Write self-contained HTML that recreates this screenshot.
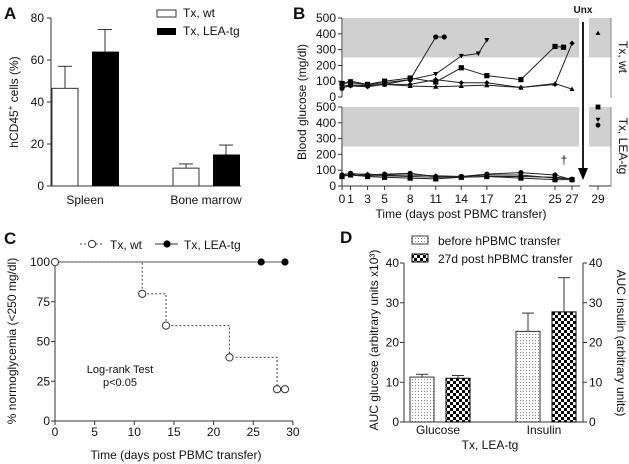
<!DOCTYPE html>
<html><head><meta charset="utf-8"><style>
body{margin:0;background:#fff}
svg{display:block;font-family:"Liberation Sans",sans-serif}
</style></head><body>
<svg id="s" width="629" height="464" viewBox="0 0 629 464">
<defs>
<pattern id="dots" width="3" height="3" patternUnits="userSpaceOnUse"><rect width="3" height="3" fill="#fff"/><rect x="1" y="1" width="1" height="1" fill="#888"/></pattern>
<pattern id="check" width="6" height="6" patternUnits="userSpaceOnUse"><rect width="6" height="6" fill="#fff"/><rect width="3" height="3" fill="#000"/><rect x="3" y="3" width="3" height="3" fill="#000"/></pattern>
</defs>
<g id="A"></g>
<g id="B"></g>
<g id="C"></g>
<g id="D"></g>
</svg>
<script>
// Panel A data
const aCats=["Spleen","Bone marrow"];
const aWt=[46.5,8.5], aWtErr=[10.5,2];
const aLea=[64,15], aLeaErr=[10.5,4.5];
const aTicks=[0,20,40,60,80];
// Panel B data
const bTicks=[0,1,3,5,8,11,14,17,21,25,27];
const bYTicks=[0,100,200,300,400,500];
const wtDays=[[0,1,3,5,8,11,12],[0,1,3,5,8,11,14,16,17],[0,1,3,5,8,11,14,17,21,25,26],[0,1,3,5,8,11,14,17,21,25,27],[0,1,3,5,8,11,14,17,21,25,27]];
const wtVals=[[55,75,70,80,110,380,380],[85,100,80,90,110,145,260,275,360],[85,90,80,100,120,95,185,135,110,320,315],[60,70,65,80,80,110,90,90,60,80,340],[70,75,75,80,70,65,70,75,60,85,50]];
const wtMarks=["circle","tridown","square","diamond","triangle"];
const leaDays=[[0,1,3,5,8,11,14,17,21,25,27],[0,1,3,5,8,11,14,17,21,25,27],[0,1,3,5,8,11,14,17,21,25,27],[0,1,3,5,8,11,14,17,21,25,27]];
const leaVals=[[70,80,70,75,80,60,60,75,85,70,40],[60,70,60,55,50,45,55,60,50,40,40],[75,75,75,70,70,65,60,70,70,50,45],[65,70,65,65,60,55,55,60,60,55,45]];
const leaMarks=["circle","square","triangle","diamond"];
const day29Wt=[405], day29WtMarks=["triangle"];
const day29Lea=[500,420,385], day29LeaMarks=["square","tridown","circle"];
// Panel C data
const cWtX=[0,11,14,22,28,29], cWtY=[100,80,60,40,20,20];
const cLeaX=[26,29], cLeaY=[100,100];
const cXTicks=[0,5,10,15,20,25,30], cYTicks=[0,25,50,75,100];
// Panel D data
const dCats=["Glucose","Insulin"];
const dBefore=[11.3,22.8], dBeforeErr=[0.7,4.6];
const dPost=[11,27.7], dPostErr=[0.7,8.6];
const dTicks=[0,10,20,30,40];

const NS="http://www.w3.org/2000/svg";
function mk(parent,tag,attrs,txt){const e=document.createElementNS(NS,tag);for(const k in attrs)e.setAttribute(k,attrs[k]);if(txt!==undefined)e.textContent=txt;parent.appendChild(e);return e;}
function line(p,x1,y1,x2,y2,st,w,dash){return mk(p,'line',{x1,y1,x2,y2,stroke:st||'#333','stroke-width':w||1,'stroke-dasharray':dash||'none'});}
function text(p,x,y,t,sz,anchor,extra){const e=mk(p,'text',Object.assign({x,y,'font-size':sz||12,'text-anchor':anchor||'middle',fill:'#111'},extra||{}),t);return e;}
function marker(p,type,x,y,r){r=r||3;let e;
 if(type=='circle')e=mk(p,'circle',{cx:x,cy:y,r:r,fill:'#000'});
 else if(type=='square')e=mk(p,'rect',{x:x-r,y:y-r,width:2*r,height:2*r,fill:'#000'});
 else if(type=='triangle')e=mk(p,'polygon',{points:`${x},${y-r} ${x-r},${y+r*0.8} ${x+r},${y+r*0.8}`,fill:'#000'});
 else if(type=='tridown')e=mk(p,'polygon',{points:`${x},${y+r} ${x-r},${y-r*0.8} ${x+r},${y-r*0.8}`,fill:'#000'});
 else e=mk(p,'polygon',{points:`${x},${y-r} ${x+r},${y} ${x},${y+r} ${x-r},${y}`,fill:'#000'});
 return e;}

// ---------- Panel A ----------
(function(){const g=document.getElementById('A');
 const y=v=>186-v*2.1;
 text(g,4,19,'A',17,'start',{'font-weight':'bold'});
 line(g,51,18,51,186);line(g,51,186,241,186);
 aTicks.forEach(t=>{line(g,47,y(t),51,y(t));const l=text(g,44,y(t)+4,t,12,'end');
  
  });
 const gx=[52,173];
 aCats.forEach((c,i)=>{
  const bx=gx[i];
  const b1=mk(g,'rect',{x:bx,y:y(aWt[i]),width:26,height:aWt[i]*2.1,fill:'#fff',stroke:'#333'});
  
  
  line(g,bx+13,y(aWt[i]),bx+13,y(aWt[i]+aWtErr[i]));line(g,bx+6,y(aWt[i]+aWtErr[i]),bx+20,y(aWt[i]+aWtErr[i]));
  const b2=mk(g,'rect',{x:bx+40,y:y(aLea[i]),width:27,height:aLea[i]*2.1,fill:'#000'});
  
  
  line(g,bx+53,y(aLea[i]),bx+53,y(aLea[i]+aLeaErr[i]));line(g,bx+46,y(aLea[i]+aLeaErr[i]),bx+60,y(aLea[i]+aLeaErr[i]));
  const l=text(g,bx+33,204,c,12);
  
  
 });
 const yt=text(g,0,0,'',12,'middle',{transform:'translate(18,102) rotate(-90)'});
 yt.innerHTML='hCD45<tspan dy="-5" font-size="8">+</tspan><tspan dy="5"> cells (%)</tspan>';
 
 
 const lg=mk(g,'g',{});
 mk(lg,'rect',{x:157,y:10,width:19,height:7,fill:'#fff',stroke:'#333'});text(lg,183,17,'Tx, wt',12,'start');
 mk(lg,'rect',{x:157,y:28,width:19,height:7,fill:'#000'});text(lg,183,35,'Tx, LEA-tg',12,'start');
})();

// ---------- Panel B ----------
(function(){const g=document.getElementById('B');
 const x=d=>342+d*8.52;
 const yT=v=>97-v*0.158, yB=v=>186-v*0.158;
 text(g,293,19,'B',17,'start',{'font-weight':'bold'});
 mk(g,'rect',{x:343,y:yT(500),width:236,height:250*0.158,fill:'#d0d0d0'});
 mk(g,'rect',{x:343,y:yB(500),width:236,height:250*0.158,fill:'#d0d0d0'});
 mk(g,'rect',{x:589,y:yT(500),width:22,height:250*0.158,fill:'#d0d0d0'});
 mk(g,'rect',{x:589,y:yB(500),width:22,height:250*0.158,fill:'#d0d0d0'});
 line(g,342,18,342,97);line(g,342,107,342,186);line(g,342,186,580,186);line(g,589,186,611,186);
 line(g,611,18,611,98,'#888');line(g,611,107,611,186,'#888');
 bYTicks.forEach(t=>{[yT,yB].forEach(f=>{line(g,338,f(t),342,f(t));text(g,336,f(t)+4,t,12,'end');});});
 bTicks.forEach(t=>{line(g,x(t),186,x(t),190);const l=text(g,x(t),203,t,12);
  
  });
 line(g,598,186,598,190);text(g,598,203,'29',12);
 const xt=text(g,461,218,'Time (days post PBMC transfer)',12);
 
 
 const yt=text(g,0,0,'Blood glucose (mg/dl)',12,'middle',{transform:'translate(306,102) rotate(-90)'});
 
 
 function series(days,vals,marks,f,nm){days.forEach((ds,i)=>{
  const pts=ds.map((d,j)=>x(d)+','+f(vals[i][j])).join(' ');
  const pl=mk(g,'polyline',{points:pts,fill:'none',stroke:'#222','stroke-width':1});
  
  
  ds.forEach((d,j)=>marker(g,marks[i],x(d),f(vals[i][j]),2.6));});}
 series(wtDays,wtVals,wtMarks,yT,'wt');
 series(leaDays,leaVals,leaMarks,yB,'lea');
 day29Wt.forEach((v,i)=>marker(g,day29WtMarks[i],598,yT(v),2.4));
 day29Lea.forEach((v,i)=>marker(g,day29LeaMarks[i],598,yB(v),2.4));
 line(g,583,22,583,170,'#222',2);
 mk(g,'polygon',{points:'578,168 588,168 583,180',fill:'#000'});
 text(g,583,13,'Unx',10,'middle',{'font-weight':'bold'});
 text(g,564,164,'†',12);
 text(g,0,0,'Tx, wt',12,'middle',{transform:'translate(619,57) rotate(90)'});
 text(g,0,0,'Tx, LEA-tg',12,'middle',{transform:'translate(619,146) rotate(90)'});
})();

// ---------- Panel C ----------
(function(){const g=document.getElementById('C');
 const x=d=>55+d*7.93, y=v=>421-v*1.59;
 text(g,4,244,'C',17,'start',{'font-weight':'bold'});
 line(g,55,262,55,421);line(g,55,421,293,421);
 cXTicks.forEach(t=>{line(g,x(t),421,x(t),425);text(g,x(t),436,t,12);});
 cYTicks.forEach(t=>{line(g,51,y(t),55,y(t));text(g,50,y(t)+4,t,12,'end');});
 text(g,176,459,'Time (days post PBMC transfer)',12);
 text(g,0,0,'% normoglycemia (<250 mg/dl)',12,'middle',{transform:'translate(16,341) rotate(-90)'});
 line(g,x(0),y(100),x(29),y(100),'#555',1);
 let d=`M${x(cWtX[0])},${y(cWtY[0])}`;
 for(let i=1;i<cWtX.length;i++){d+=` H${x(cWtX[i])} V${y(cWtY[i])}`;}
 const st=mk(g,'path',{d,fill:'none',stroke:'#444','stroke-dasharray':'2,2'});
 
 
 cWtX.forEach((v,i)=>mk(g,'circle',{cx:x(v),cy:y(cWtY[i]),r:3.6,fill:'#fff',stroke:'#333'}));
 cLeaX.forEach((v,i)=>mk(g,'circle',{cx:x(v),cy:y(cLeaY[i]),r:3.6,fill:'#000'}));
 const lg=mk(g,'g',{});
 line(lg,80,244,104,244,'#444',1,'2,2');mk(lg,'circle',{cx:92,cy:244,r:3.6,fill:'#fff',stroke:'#333'});text(lg,110,249,'Tx, wt',12,'start');
 line(lg,155,244,178,244,'#333');mk(lg,'circle',{cx:167,cy:244,r:3.6,fill:'#000'});text(lg,184,249,'Tx, LEA-tg',12,'start');
 text(g,120,373,'Log-rank Test',11);text(g,120,386,'p<0.05',11);
})();

// ---------- Panel D ----------
(function(){const g=document.getElementById('D');
 const y=v=>422-v*3.975;
 text(g,340,243,'D',17,'start',{'font-weight':'bold'});
 line(g,404,263,404,422);line(g,404,422,583,422);line(g,583,263,583,422);
 dTicks.forEach(t=>{line(g,400,y(t),404,y(t));text(g,399,y(t)+4,t,12,'end');line(g,583,y(t),587,y(t));text(g,589,y(t)+4,t,12,'start');});
 const gx=[410,516];
 dCats.forEach((c,i)=>{const bx=gx[i];
  const b1=mk(g,'rect',{x:bx,y:y(dBefore[i]),width:24,height:dBefore[i]*3.975,fill:'url(#dots)',stroke:'#333'});
  
  
  line(g,bx+12,y(dBefore[i]),bx+12,y(dBefore[i]+dBeforeErr[i]));line(g,bx+6,y(dBefore[i]+dBeforeErr[i]),bx+18,y(dBefore[i]+dBeforeErr[i]));
  const b2=mk(g,'rect',{x:bx+36,y:y(dPost[i]),width:24,height:dPost[i]*3.975,fill:'url(#check)',stroke:'#000'});
  
  
  line(g,bx+48,y(dPost[i]),bx+48,y(dPost[i]+dPostErr[i]));line(g,bx+42,y(dPost[i]+dPostErr[i]),bx+54,y(dPost[i]+dPostErr[i]));
  text(g,bx+28,434,c,12);
 });
 text(g,490,449,'Tx, LEA-tg',12);
 text(g,0,0,'AUC glucose (arbitrary units x10³)',12,'middle',{transform:'translate(378,340) rotate(-90)'});
 text(g,0,0,'AUC insulin (arbitrary units)',12,'middle',{transform:'translate(617,343) rotate(90)'});
 const lg=mk(g,'g',{});
 mk(lg,'rect',{x:412,y:236,width:16,height:8,fill:'url(#dots)',stroke:'#333'});text(lg,438,245,'before hPBMC transfer',12,'start');
 mk(lg,'rect',{x:412,y:254,width:16,height:8,fill:'url(#check)',stroke:'#000'});text(lg,438,263,'27d post hPBMC transfer',12,'start');
})();
</script>
</body></html>
